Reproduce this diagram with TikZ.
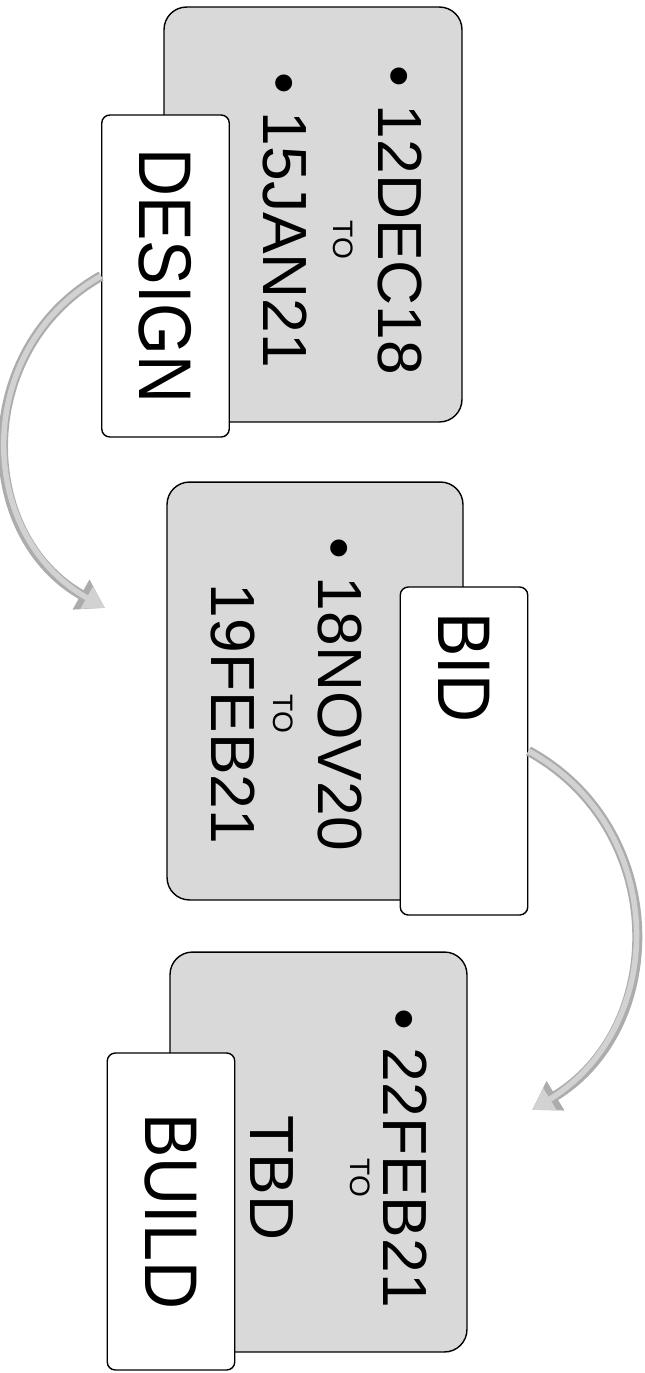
\documentclass[tikz,border=0pt]{standalone}
\usepackage{fontspec}
\setmainfont{Liberation Sans}
\newfontfamily\stagefamily[FakeStretch=0.89]{Liberation Sans}
\usepackage{tikz}
\usetikzlibrary{arrows.meta}

\newcommand{\stagefont}{\stagefamily\fontsize{42.5}{50}\selectfont}
\newcommand{\datefont}{\fontsize{35.5}{40}\selectfont}
\newcommand{\tofont}{\fontsize{16}{18}\selectfont}
\newcommand{\datebullet}{\llap{\textbullet\ }}

\tikzset{
  datebox/.style={draw=black, line width=0.8pt, fill=gray!30, rounded corners=4.5mm, rotate=-90},
  datetext/.style={font=\datefont, align=center, rotate=-90, inner sep=0pt},
  stagebox/.style={draw=black, line width=0.8pt, fill=white, rounded corners=1.6mm, rotate=-90, font=\stagefont, minimum height=2.55cm},
  stagearrow/.style={preaction={draw=gray!65, line width=2mm, -{Triangle[length=5.5mm,width=6.5mm]}}, draw=gray!35, line width=1.1mm, -{Triangle[length=4.2mm,width=4.8mm]}}
}

\begin{document}
\begin{tikzpicture}[x=0.02cm, y=-0.02cm]
\useasboundingbox (0,0) rectangle (645,1373);

% date boxes
\foreach \stage/\cx/\cy/\w/\h in {design/313/214.5/8.3/5.96, bid/315/691/8.36/5.92, build/318.5/1152/8.0/5.94} {
    \node[datebox, minimum width=\w cm, minimum height=\h cm] (box-\stage) at (\cx,\cy) {};
}

% dates
\node[datetext] (dates-design) at (342.5,240) {\datebullet 12DEC18\\[-14.4pt]{\tofont TO}\\\datebullet 15JAN21};
\node[datetext] (dates-bid) at (286.5,714) {\datebullet 18NOV20\\[-14.4pt]{\tofont TO}\\[-4.2pt]19FEB21};
\node[datetext] (dates-build) at (339,1178) {\datebullet 22FEB21\\[-21.2pt]{\tofont TO}\\[16.9pt]TBD};

% stages
\node[stagebox, minimum width=6.44cm] (stage-design) at (165.5,276) {DESIGN};
\node[stagebox, minimum width=6.56cm, text width=5.56cm, align=left] (stage-bid) at (464,751) {BID};
\node[stagebox, minimum width=6.34cm] (stage-build) at (171,1211.5) {BUILD};

% flow
\coordinate (tip-bid) at (105,608);
\coordinate (tip-build) at (532,1110);
\draw[stagearrow] (stage-design.south) .. controls (-28,349) and (-25,535) .. (tip-bid);
\draw[stagearrow] (stage-bid.north) .. controls (669,828) and (669,1027) .. (tip-build);

\end{tikzpicture}
\end{document}
